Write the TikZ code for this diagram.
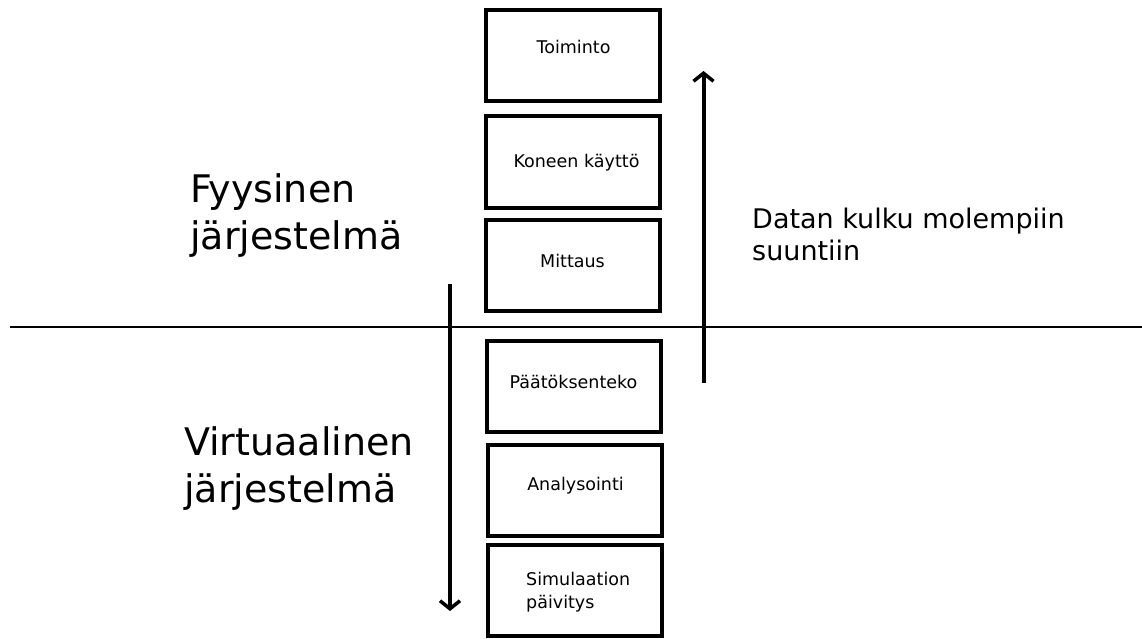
\documentclass[tikz,border=0pt]{standalone}
\usepackage{fontspec}
\setmainfont{DejaVu Sans}
\usetikzlibrary{positioning,arrows.meta}
\tikzstyle{lohko} = [rectangle, draw=black, line width=4pt, minimum width=174pt, minimum height=91pt, inner sep=0pt]
\tikzstyle{pieni} = [font=\fontsize{17.5}{23}\selectfont, inner sep=0pt]
\tikzstyle{iso}   = [font=\fontsize{38}{47}\selectfont, align=left, inner sep=0pt, anchor=west]
\tikzstyle{nuoli} = [line width=4pt, -{Straight Barb[length=8pt,width=20pt,line width=3.5pt]}]

\begin{document}
\begin{tikzpicture}[x=1pt, y=-1pt]
	\useasboundingbox (0,0) rectangle (1142,639);

	% lohkot
	\node[lohko] (toiminto)  at (572.5,55.5) {};
	\node[lohko] (kaytto)    at (573,162)    {};
	\node[lohko] (mittaus)   at (573,265)    {};
	\node[lohko] (paatos)    at (573.5,386)  {};
	\node[lohko] (analyysi)  at (574.5,490.5) {};
	\node[lohko] (simulaatio) at (574.5,590)  {};

	% tekstit
	\node[pieni] (toimintoT) at (573.5,47)  {Toiminto};
	\node[pieni] (kayttoT)   at (576.5,163) {Koneen käyttö};
	\node[pieni] (mittausT)  at (572.5,261) {Mittaus};
	\node[pieni] (paatosT)   at (573.5,382) {Päätöksenteko};
	\node[pieni] (analyysiT) at (575.5,486) {Analysointi};
	\node[pieni, align=left, anchor=west] (simulaatioT) at (526,592) {Simulaation\\päivitys};

	\node[iso] (fyysinen) at (190,216) {Fyysinen\\järjestelmä};
	\node[iso] (virtuaali) at (184,469) {Virtuaalinen\\järjestelmä};
	\node[font=\fontsize{27}{32}\selectfont, align=left, anchor=west, inner sep=0pt] (data) at (752,234) {Datan kulku molempiin\\suuntiin};

	% raja
	\coordinate (rajaV) at (10,327);
	\coordinate (rajaO) at (1142,327);
	\draw[line width=1.3pt] (rajaV) -- (rajaO);

	% nuolet
	\coordinate (alasA) at (450,284);
	\coordinate (alasL) at (450,611);
	\coordinate (ylosA) at (703.5,383);
	\coordinate (ylosL) at (703.5,71);
	\draw[nuoli] (alasA) -- (alasL);
	\draw[nuoli] (ylosA) -- (ylosL);
\end{tikzpicture}
\end{document}
